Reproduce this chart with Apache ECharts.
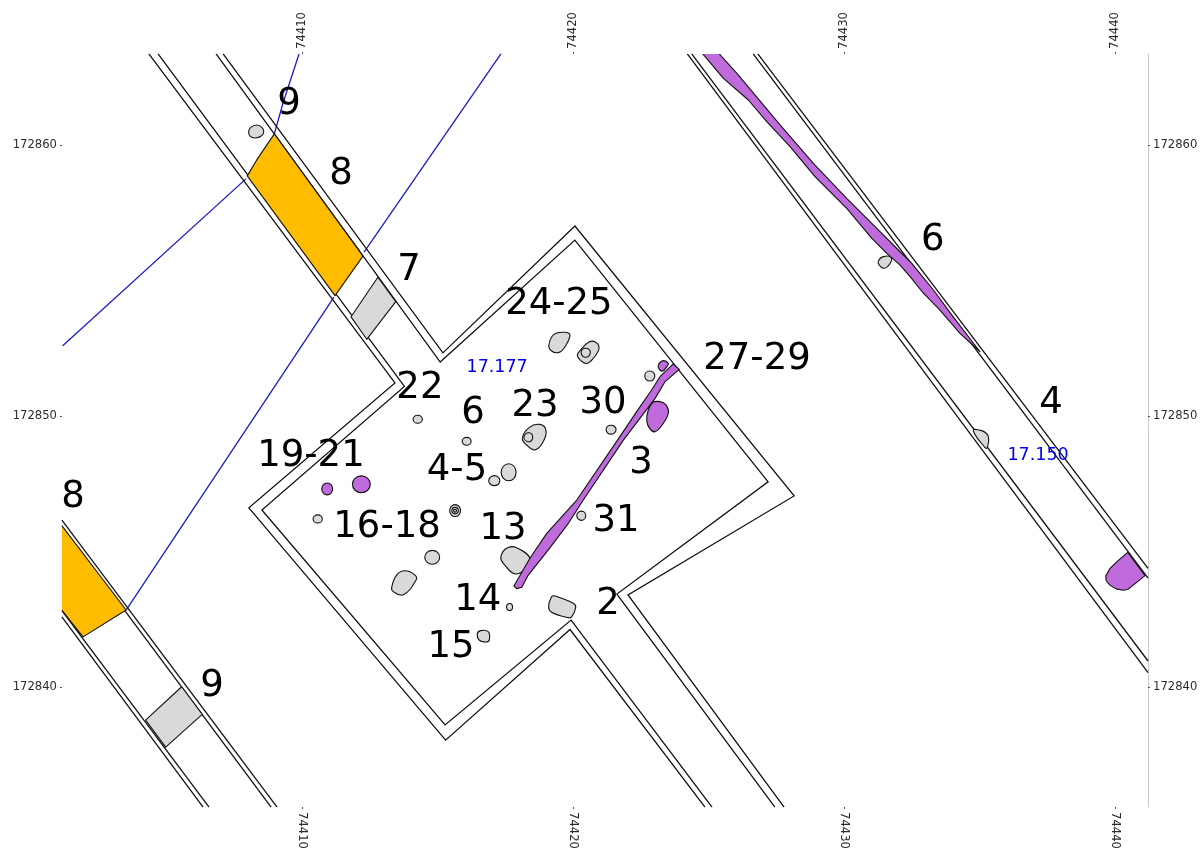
<!DOCTYPE html>
<html>
<head>
<meta charset="utf-8">
<style>html,body{margin:0;padding:0;background:#fff}#c{width:1200px;height:849px}</style>
<script src="https://cdn.jsdelivr.net/npm/echarts@6/dist/echarts.min.js"></script>
</head>
<body>
<div id="c"></div>
<script>
// Survey grid base: every vertex below is [east, north] relative to this origin, in metres.
const baseE = 74400;
const baseN = 172830;
const xRange = [74401.144, 74441.218];
const yRange = [172835.572, 172863.358];
const xTicks = [74410, 74420, 74430, 74440];
const yTicks = [172840, 172850, 172860];

// Trench walls
const wallInnerA = [[4.69,33.36],[13.78,21.09],[8.52,16.53],[15.28,8.60],[19.93,12.47],[25.13,5.57]];
const wallOuterA = [[4.35,33.36],[13.43,21.22],[8.04,16.61],[15.30,8.04],[19.89,12.12],[24.87,5.57]];
const wallInnerB = [[6.83,33.36],[15.10,21.99],[20.07,26.49],[27.20,17.57],[21.62,13.43],[27.45,5.57]];
const wallOuterB = [[7.09,33.36],[15.20,22.33],[20.07,27.01],[28.16,17.05],[22.03,13.40],[27.79,5.57]];
const wallsLowerLeft = [
  [[1.14,16.16],[9.08,5.57]],
  [[1.14,15.94],[8.86,5.57]],
  [[1.14,12.82],[6.57,5.57]],
  [[1.14,12.59],[6.35,5.57]]
];
const wallsRight = [
  [[24.22,33.36],[41.22,10.53]],
  [[24.38,33.36],[41.22,10.96]],
  [[26.65,33.36],[41.22,14.02]],
  [[26.82,33.36],[41.22,14.38]]
];

// Blue survey lines
const blueLines = [
  [[1.17,22.59],[7.93,28.75]],
  [[8.98,30.41],[9.30,31.55],[9.89,33.36]],
  [[17.34,33.36],[12.29,26.05]],
  [[11.18,24.39],[3.51,12.84]]
];

// Filled sections
const goldTop = [[8.98,30.41],[12.25,25.90],[11.22,24.44],[7.98,28.86],[8.33,29.45]];
const goldLeft = [[0.33,17.01],[3.51,12.84],[1.92,11.85],[0.33,13.85]];
const grayTop = [[12.80,25.12],[13.46,24.22],[12.39,22.83],[11.81,23.66]];
const grayLeft = [[5.56,10.01],[6.32,8.99],[4.97,7.78],[4.23,8.78]];

// Purple features
const purpleLongRight = [[24.93,33.87],[25.40,33.36],[26.04,32.65],[27.64,30.74],[28.87,29.32],[30.10,28.03],[31.33,26.80],[31.94,26.19],[32.50,25.63],[33.30,24.65],[34.03,23.66],[35.02,22.37],[34.28,23.05],[33.54,23.91],[32.93,24.53],[32.44,25.14],[32.07,25.57],[31.58,26.00],[31.02,26.56],[30.10,27.66],[28.93,28.83],[28.01,29.94],[27.15,30.86],[26.47,31.66],[25.55,32.46],[24.79,33.36],[24.35,33.87]];
const purpleStrip = [[23.70,21.92],[23.21,21.45],[22.90,20.96],[22.35,20.16],[21.73,19.24],[20.14,16.90],[19.03,15.67],[18.41,14.75],[17.82,13.73],[17.92,13.63],[18.11,13.68],[18.35,14.13],[19.09,15.06],[19.83,16.04],[20.38,16.90],[21.86,19.11],[23.03,20.65],[23.40,21.27],[23.92,21.72]];
const purpleCorner = [[40.47,14.97],[41.11,14.11],[40.49,13.61],[40.30,13.57],[40.04,13.62],[39.82,13.75],[39.67,13.93],[39.66,14.10],[39.82,14.38],[40.06,14.62]];
const purpleBlobs = [
  [[10.73,17.31],[10.93,17.53],[11.13,17.31],[10.93,17.09]],
  [[11.86,17.48],[12.19,17.79],[12.52,17.48],[12.19,17.17]]
];
const purpleIrregular = [
  [[23.15,21.88],[23.31,22.04],[23.52,21.94],[23.46,21.82],[23.31,21.66],[23.18,21.73]],
  [[22.93,20.49],[23.21,20.53],[23.43,20.41],[23.52,20.12],[23.33,19.73],[23.03,19.42],[22.82,19.55],[22.72,19.85],[22.78,20.22]]
];

// Round stones (four vertices each)
const stonesRound = [
  [[14.10,19.88],[14.27,20.03],[14.44,19.88],[14.27,19.73]],
  [[15.91,19.07],[16.08,19.21],[16.24,19.07],[16.08,18.92]],
  [[17.35,17.92],[17.63,18.24],[17.90,17.92],[17.63,17.61]],
  [[16.89,17.61],[17.10,17.80],[17.30,17.61],[17.10,17.43]],
  [[10.41,16.20],[10.58,16.35],[10.75,16.20],[10.58,16.05]],
  [[15.45,16.51],[15.65,16.73],[15.85,16.51],[15.65,16.29]],
  [[15.53,16.51],[15.65,16.63],[15.77,16.51],[15.65,16.39]],
  [[15.59,16.51],[15.65,16.56],[15.70,16.51],[15.65,16.45]],
  [[14.53,14.79],[14.81,15.04],[15.08,14.79],[14.81,14.53]],
  [[17.55,12.95],[17.66,13.08],[17.77,12.95],[17.66,12.82]],
  [[20.14,16.32],[20.31,16.49],[20.47,16.32],[20.31,16.15]],
  [[21.22,19.50],[21.40,19.66],[21.59,19.50],[21.40,19.33]],
  [[22.65,21.48],[22.83,21.66],[23.02,21.48],[22.83,21.29]]
];
// Irregular stones
const stonesIrregular = [
  [[8.03,30.49],[8.11,30.65],[8.33,30.74],[8.52,30.65],[8.59,30.49],[8.51,30.34],[8.27,30.26],[8.08,30.33]],
  [[13.31,13.68],[13.49,14.13],[13.80,14.29],[14.17,14.13],[14.21,13.95],[13.74,13.40],[13.37,13.52]],
  [[17.34,14.81],[17.55,15.12],[17.92,15.14],[18.41,14.71],[17.92,14.17],[17.43,14.56]],
  [[19.21,13.33],[19.34,13.36],[20.01,13.09],[20.10,12.94],[19.95,12.59],[19.83,12.56],[19.21,12.76],[19.10,12.96]],
  [[16.47,11.96],[16.59,12.08],[16.87,12.04],[16.91,11.73],[16.79,11.66],[16.54,11.73]],
  [[19.30,23.01],[19.70,23.09],[19.89,22.99],[19.67,22.50],[19.46,22.34],[19.21,22.40],[19.11,22.62]],
  [[20.26,22.41],[20.56,22.71],[20.81,22.74],[20.96,22.50],[20.75,22.13],[20.51,21.94],[20.26,22.07],[20.16,22.25]],
  [[18.39,19.58],[18.78,19.69],[19.00,19.48],[18.90,19.05],[18.60,18.75],[18.29,18.93],[18.13,19.18]],
  [[31.27,25.73],[31.45,25.88],[31.73,25.86],[31.70,25.63],[31.48,25.45],[31.30,25.57]],
  [[34.77,19.46],[35.08,19.46],[35.32,19.26],[35.30,18.87],[35.23,18.81]]
];
const stoneRings = [
  [[20.30,22.34],[20.47,22.50],[20.64,22.34],[20.47,22.17]],
  [[18.19,19.24],[18.39,19.38],[18.51,19.18],[18.35,19.05]]
];

// Text annotations
const labelTexts = ['9','8','7','24-25','22','6','23','30','27-29','6','4','3','19-21','4-5','31','16-18','13','14','2','15','8','9'];
const labelE = [9.52,11.44,13.95,19.48,14.35,16.31,18.60,21.11,26.79,33.28,37.64,22.51,10.33,15.72,21.59,13.14,17.42,16.49,21.29,15.50,1.55,6.68];
const labelN = [31.49,28.91,25.36,24.11,21.01,20.09,20.35,20.46,22.08,26.47,20.46,18.24,18.50,17.98,16.10,15.88,15.81,13.19,13.04,11.45,16.99,10.01];
const levelTexts = ['17.177','17.150'];
const levelE = [17.20,37.16];
const levelN = [21.78,18.53];

const GOLD = '#ffbc00', GRAY = '#d9d9d9', PURPLE = '#bf6bdb', INK = '#111111', BLUE = '#1a1acc';
const toMap = pts => pts.map(p => [baseE + p[0], baseN + p[1]]);

const lineOf = (pts, color, width, z) => ({
  type: 'line', data: toMap(pts), symbol: 'none', showSymbol: false, silent: true, clip: true,
  animation: false, z, lineStyle: { color, width, join: 'miter' }
});

// [vertices, fill, smoothing]
const shapes = [];
const add = (list, fill, smooth) => list.forEach(s => shapes.push([toMap(s), fill, smooth]));
add(stonesIrregular, GRAY, 0.42);
add(stonesRound, GRAY, 0.55);
add([grayTop, grayLeft], GRAY, 0);
add(stoneRings, 'none', 0.55);
add([goldTop, goldLeft], GOLD, 0);
add(purpleBlobs, PURPLE, 0.55);
add(purpleIrregular, PURPLE, 0.42);
add([purpleLongRight, purpleStrip, purpleCorner], PURPLE, 0);

const shapeSeries = {
  type: 'custom', clip: true, silent: true, animation: false, z: 4,
  data: shapes.map((s, i) => [baseE, baseN, i]),
  encode: { x: 0, y: 1 },
  renderItem: (params, api) => {
    const s = shapes[api.value(2)];
    return {
      type: 'polygon',
      shape: { points: s[0].map(p => api.coord(p)), smooth: s[2] },
      style: { fill: s[1] === 'none' ? null : s[1], stroke: INK, lineWidth: 1.1, lineJoin: 'round' }
    };
  }
};

const textSeries = (texts, es, ns, color, size) => ({
  type: 'scatter', silent: true, animation: false, z: 6, clip: false, symbolSize: 0,
  itemStyle: { opacity: 1 },
  data: es.map((e, i) => [baseE + e, baseN + ns[i]]),
  label: {
    show: true, position: 'inside', color, opacity: 1, fontSize: size, fontFamily: 'DejaVu Sans',
    formatter: p => texts[p.dataIndex]
  },
  labelLayout: { hideOverlap: false }
});

const axisCommon = (ticks, rotate) => ({
  type: 'value', splitLine: { show: false },
  axisTick: { show: true, length: 2, customValues: ticks, lineStyle: { color: '#555', width: 1 } },
  axisLabel: {
    customValues: ticks, margin: 5, rotate, color: '#2b2b2b', fontSize: 11.6, fontFamily: 'DejaVu Sans',
    formatter: v => String(v), hideOverlap: false
  }
});
const hiddenLine = { show: false };
const xAxes = ['bottom', 'top'].map(position => Object.assign(axisCommon(xTicks, -90), {
  position, min: xRange[0], max: xRange[1], axisLine: hiddenLine
}));
const yAxes = ['left', 'right'].map(position => Object.assign(axisCommon(yTicks, 0), {
  position, min: yRange[0], max: yRange[1],
  axisLine: position === 'right' ? { show: true, lineStyle: { color: '#c8c8c8', width: 1 } } : hiddenLine
}));

const series = [];
blueLines.forEach(l => series.push(lineOf(l, BLUE, 1.3, 2)));
[wallInnerA, wallOuterA, wallInnerB, wallOuterB, ...wallsLowerLeft, ...wallsRight]
  .forEach(l => series.push(lineOf(l, INK, 1.3, 3)));
series.push(shapeSeries);
series.push(textSeries(labelTexts, labelE, labelN, '#000000', 37));
series.push(textSeries(levelTexts, levelE, levelN, '#0000ee', 17.5));

const chart = echarts.init(document.getElementById('c'), null, { width: 1200, height: 849 });
chart.setOption({
  backgroundColor: '#fff',
  animation: false,
  grid: { left: 62, width: 1086, top: 54, height: 753, containLabel: false, outerBoundsMode: 'none' },
  xAxis: xAxes,
  yAxis: yAxes,
  series
});
</script>
</body>
</html>
